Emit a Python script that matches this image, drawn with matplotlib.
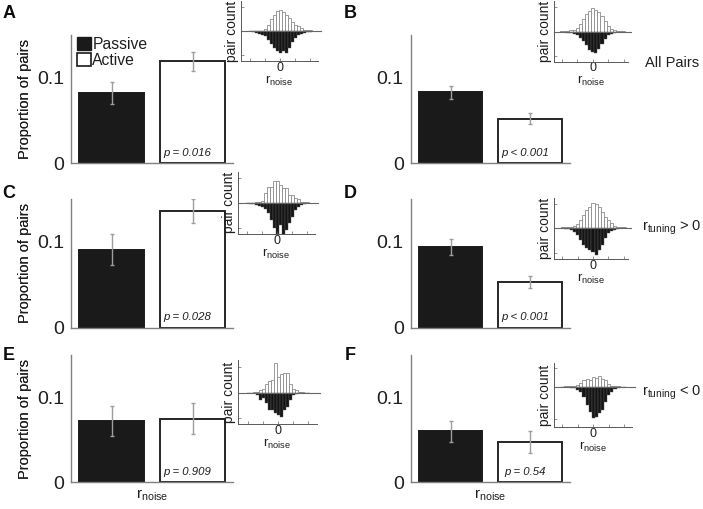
import numpy as np
import matplotlib
matplotlib.use('Agg')
import matplotlib.pyplot as plt
from matplotlib.patches import Patch

plt.rcParams['font.family'] = ['Liberation Sans', 'DejaVu Sans']
plt.rcParams['mathtext.default'] = 'regular'

# ---- data ----
panels = ['A', 'B', 'C', 'D', 'E', 'F']
passive = [0.082, 0.083, 0.091, 0.094, 0.072, 0.060]
active = [0.119, 0.052, 0.136, 0.053, 0.075, 0.048]
passive_err = [0.013, 0.0076, 0.018, 0.0089, 0.018, 0.012]
active_err = [0.0115, 0.0064, 0.014, 0.007, 0.018, 0.0129]
p_text = ['p = 0.016', 'p < 0.001', 'p = 0.028', 'p < 0.001', 'p = 0.909', 'p = 0.54']
row_labels = ['All Pairs', r'r$_{tuning}$ > 0', r'r$_{tuning}$ < 0']

# inset histograms (r_noise bins, pair counts)
bin_centers = [-0.5, -0.45, -0.4, -0.35, -0.3, -0.25, -0.2, -0.15, -0.1, -0.05, 0.0,
               0.05, 0.1, 0.15, 0.2, 0.25, 0.3, 0.35, 0.4, 0.45, 0.5]
hist_active = {
    'A': [0, 0, 1, 2, 3, 8, 21, 38, 50, 62, 65, 60, 50, 40, 28, 20, 16, 10, 6, 5, 4],
    'B': [1, 2, 3, 4, 6, 11, 23, 38, 53, 63, 71, 65, 58, 48, 33, 18, 8, 5, 3, 2, 1],
    'C': [0, 1, 2, 3, 5, 8, 30, 50, 50, 67, 67, 55, 45, 45, 25, 25, 15, 12, 5, 5, 3],
    'D': [1, 1, 2, 3, 5, 10, 23, 38, 53, 63, 73, 70, 63, 48, 33, 23, 13, 6, 3, 2, 1],
    'E': [0, 0, 1, 3, 8, 12, 25, 35, 38, 88, 48, 55, 60, 58, 25, 10, 8, 3, 1, 0, 0],
    'F': [0, 1, 2, 2, 3, 5, 10, 20, 22, 20, 30, 25, 32, 22, 20, 7, 3, 2, 1, 0, 0],
}
hist_passive = {
    'A': [0, 2, 5, 7, 10, 15, 25, 37, 50, 58, 65, 60, 66, 50, 32, 20, 12, 7, 4, 2, 1],
    'B': [2, 3, 4, 6, 9, 12, 19, 29, 42, 57, 62, 67, 52, 37, 22, 12, 7, 4, 3, 2, 1],
    'C': [0, 1, 2, 4, 8, 12, 18, 30, 50, 75, 95, 65, 95, 80, 60, 40, 20, 10, 5, 2, 0],
    'D': [2, 3, 5, 7, 12, 22, 37, 52, 60, 67, 72, 82, 67, 52, 32, 17, 10, 7, 4, 2, 1],
    'E': [0, 0, 2, 7, 22, 17, 30, 52, 52, 60, 67, 74, 52, 42, 22, 7, 3, 1, 0, 0, 0],
    'F': [0, 1, 2, 3, 5, 10, 15, 30, 55, 75, 95, 92, 78, 70, 45, 25, 15, 8, 4, 2, 0],
}

# ---- layout (pixel boxes: left, top, right, bottom) ----
W, H = 703, 509
main_box = {'A': (71, 35, 233, 163), 'B': (410.7, 35, 570, 163),
            'C': (71, 199, 233, 327.7), 'D': (410.7, 199, 570, 327.7),
            'E': (71, 355, 233, 482.3), 'F': (410.7, 355, 570, 482.3)}
inset_box = {'A': (240.7, 1, 318, 61), 'B': (554, 1, 628, 61.7),
             'C': (237.7, 171.7, 315, 234), 'D': (554, 198.3, 628, 259.3),
             'E': (237.7, 360, 316.7, 424.3), 'F': (554, 363.3, 631.7, 427.3)}
inset_ylim = {'A': (-90, 93), 'B': (-92, 93), 'C': (-92, 95),
              'D': (-95, 88), 'E': (-95, 98), 'F': (-122, 70)}
inset_xlim = {'A': (-0.655, 0.633), 'B': (-0.625, 0.57), 'C': (-0.66, 0.628),
              'D': (-0.63, 0.565), 'E': (-0.677, 0.64), 'F': (-0.634, 0.62)}
letter_pos = {'A': (9, 13), 'B': (350, 13), 'C': (9, 193),
              'D': (350, 193), 'E': (9, 356), 'F': (350, 356)}

TXT = '0.12'
AXC = '0.5'


def px_axes(fig, box):
    l, t, r, b = box
    return fig.add_axes([l / W, 1 - b / H, (r - l) / W, (b - t) / H])


def draw_main(fig, k, i):
    ax = px_axes(fig, main_box[k])
    ax.bar([1, 2], [passive[i], active[i]], width=0.8,
           color=['0.1', 'white'], edgecolor=['0.1', '0.15'], linewidth=1.4)
    ax.errorbar([1, 2], [passive[i], active[i]], yerr=[passive_err[i], active_err[i]],
                fmt='none', ecolor='0.62', elinewidth=1.0, capsize=1.5, capthick=1.0)
    ax.text(1.94, 0.012, p_text[i], ha='center', va='center', fontsize=8.2,
            style='italic', color=TXT)
    ax.set_xlim(0.5, 2.5)
    ax.set_ylim(0, 0.15)
    ax.set_yticks([0, 0.1])
    ax.set_yticklabels(['0', '0.1'], fontsize=14, color=TXT)
    ax.set_xticks([])
    ax.tick_params(axis='y', length=0, pad=5)
    for s in ['top', 'right']:
        ax.spines[s].set_visible(False)
    for s in ['left', 'bottom']:
        ax.spines[s].set_color(AXC)
        ax.spines[s].set_linewidth(1.0)
    l, t, r, b = main_box[k]
    fig.text(25 / W, 1 - (t + b) / 2 / H, 'Proportion of pairs', rotation=90,
             ha='center', va='center', fontsize=10.5, color=TXT)
    return ax


def draw_inset(fig, k):
    ax = px_axes(fig, inset_box[k])
    ax.bar(bin_centers, hist_active[k], width=0.05, color='white',
           edgecolor='0.55', linewidth=0.6)
    ax.bar(bin_centers, [-v for v in hist_passive[k]], width=0.05, color='0.08',
           edgecolor='0.35', linewidth=0.3)
    x0, x1 = inset_xlim[k]
    ax.plot([x0, x1 + 0.05], [0, 0], color='0.4', linewidth=0.8, clip_on=False)
    ax.set_xlim(x0, x1)
    ax.set_ylim(*inset_ylim[k])
    ax.set_xticks([-0.5, -0.25, 0, 0.25, 0.5])
    ax.set_xticklabels(['', '', '0', '', ''], fontsize=9, color=TXT)
    lo, hi = inset_ylim[k]
    ax.set_yticks([0.8 * lo, 0, 0.8 * hi])
    ax.set_yticklabels([])
    ax.tick_params(direction='in', length=2, width=0.5, color='0.4', pad=0.5)
    ax.set_ylabel('pair count', fontsize=10, color=TXT, labelpad=1)
    ax.set_xlabel(r'r$_{noise}$', fontsize=9.5, color=TXT, labelpad=0)
    for s in ['top', 'right']:
        ax.spines[s].set_visible(False)
    for s in ['left', 'bottom']:
        ax.spines[s].set_color('0.35')
        ax.spines[s].set_linewidth(0.7)
    return ax


fig = plt.figure(figsize=(W / 100, H / 100), dpi=100)

for i, k in enumerate(panels):
    ax = draw_main(fig, k, i)
    draw_inset(fig, k)
    lx, ly = letter_pos[k]
    fig.text(lx / W, 1 - ly / H, k, ha='center', va='center', fontsize=13,
             fontweight='bold', color='0.05')
    if k == 'A':
        handles = [Patch(facecolor='0.1', edgecolor='0.1'),
                   Patch(facecolor='white', edgecolor='0.1', linewidth=1.2)]
        ax.legend(handles, ['Passive', 'Active'], loc='upper left',
                  bbox_to_anchor=(0.04, 0.985), frameon=False, fontsize=11.3,
                  handlelength=0.85, handleheight=0.95, handletextpad=0.1,
                  labelspacing=0.05, borderpad=0, borderaxespad=0, labelcolor=TXT)
    if k in ['E', 'F']:
        ax.set_xlabel(r'r$_{noise}$', fontsize=11, color=TXT, labelpad=4)

# row labels on the right
for j, lab in enumerate(row_labels):
    y = [63, 228.3, 393.3][j]
    fig.text(672 / W, 1 - y / H, lab, ha='center', va='center', fontsize=10.5, color=TXT)

fig.savefig('out.png', dpi=100)
